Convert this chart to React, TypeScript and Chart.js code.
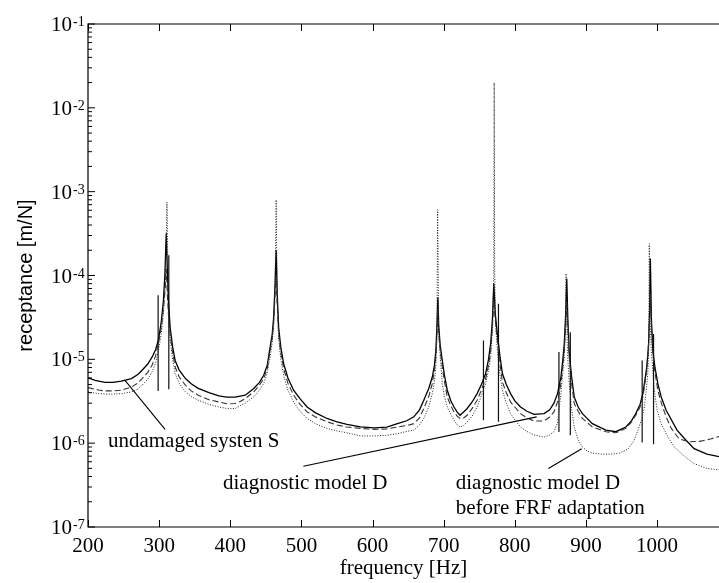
import React, { useEffect, useRef } from "react";
import { Chart, registerables } from "chart.js";

Chart.register(...registerables);

const SERIF = '"Liberation Serif", "Times New Roman", serif';
const SANS = '"Liberation Sans", Arial, sans-serif';

// [frequency Hz, receptance m/N]
const SYSTEM_S: [number, number][] = [
  [200, 6.0e-6], [210, 5.6e-6], [224, 5.3e-6], [235, 5.3e-6], [247, 5.5e-6], [261, 5.9e-6], [270, 6.6e-6], [276, 7.4e-6], [284, 8.8e-6], [290, 1.06e-5],
  [295, 1.3e-5], [299, 1.7e-5], [303, 2.8e-5], [306, 5.0e-5], [308, 1.0e-4], [310, 3.2e-4], [311.5, 1.2e-4], [313, 5.0e-5], [315.5, 2.4e-5], [319, 1.4e-5],
  [322.5, 9.7e-6], [328, 7.5e-6], [337, 5.9e-6], [345, 5.1e-6], [355, 4.5e-6], [370, 4.0e-6], [384, 3.66e-6], [395, 3.55e-6], [407, 3.55e-6], [421, 3.73e-6],
  [433, 4.5e-6], [441, 5.3e-6], [447, 6.45e-6], [452, 8.5e-6], [456, 1.4e-5], [459, 2.0e-5], [461, 3.2e-5], [463, 8e-5], [464.5, 2.0e-4], [466, 6e-5],
  [468, 2.4e-5], [471, 1.4e-5], [475, 8.9e-6], [481, 6e-6], [489, 4.28e-6], [498, 3.4e-6], [508, 2.7e-6], [520, 2.3e-6], [536, 1.97e-6], [550, 1.8e-6],
  [564, 1.68e-6], [583, 1.56e-6], [602, 1.52e-6], [620, 1.55e-6], [635, 1.71e-6], [648, 1.85e-6], [658, 2.06e-6], [666, 2.5e-6], [672, 3.25e-6], [679, 4.5e-6],
  [684, 6.15e-6], [687, 8.5e-6], [689, 1.28e-5], [690.5, 2.5e-5], [691.8, 5.5e-5], [693, 2.5e-5], [695, 1.5e-5], [698, 9.7e-6], [701, 6.5e-6], [705, 4.28e-6],
  [710, 3.2e-6], [714.5, 2.7e-6], [719, 2.35e-6], [723, 2.15e-6], [728, 2.35e-6], [733, 2.59e-6], [740, 3.1e-6], [747, 3.9e-6], [753, 5.0e-6], [759, 6.76e-6],
  [763, 1.0e-5], [766, 1.54e-5], [768.5, 3.0e-5], [770.5, 8.0e-5], [772.5, 3.5e-5], [775.5, 2.0e-5], [779, 1.1e-5], [782.5, 6.76e-6], [788, 5.0e-6], [794, 3.9e-6],
  [800, 3.2e-6], [808, 2.7e-6], [817, 2.4e-6], [827, 2.2e-6], [841, 2.25e-6], [849, 2.5e-6], [855, 3.0e-6], [860, 3.9e-6], [864.8, 6.15e-6], [867.5, 1.0e-5],
  [869.5, 1.54e-5], [871.5, 3.5e-5], [873, 9.2e-5], [874.5, 3.0e-5], [876.5, 1.17e-5], [880, 6.0e-6], [883.5, 3.56e-6], [889, 2.7e-6], [895, 2.25e-6], [909, 1.71e-6],
  [928, 1.43e-6], [942, 1.37e-6], [956, 1.56e-6], [963, 1.8e-6], [970, 2.25e-6], [976, 2.9e-6], [980, 3.9e-6], [985.5, 8.1e-6], [988, 1.5e-5], [989.5, 4e-5],
  [990.5, 1.6e-4], [992, 3e-5], [994, 1.28e-5], [997, 8e-6], [1001, 5.14e-6], [1006, 3.5e-6], [1012.7, 2.47e-6], [1028, 1.43e-6], [1040, 1.1e-6], [1052, 8.6e-7],
  [1070, 7.4e-7], [1087, 6.9e-7],
];

const MODEL_D: [number, number][] = [
  [200, 4.6e-6], [215, 4.3e-6], [224, 4.2e-6], [235, 4.2e-6], [247, 4.28e-6], [261, 4.68e-6], [270, 5.2e-6], [276, 5.9e-6], [284, 7.0e-6], [290, 8.5e-6],
  [295, 1.1e-5], [299, 1.54e-5], [303, 2.4e-5], [306, 4.0e-5], [308.5, 7e-5], [310, 1.2e-4], [311.5, 6e-5], [313, 3.5e-5], [315.5, 2.0e-5], [319, 1.2e-5],
  [322.5, 8.1e-6], [328, 6.2e-6], [337, 4.9e-6], [345, 4.2e-6], [355, 3.73e-6], [370, 3.3e-6], [384, 3.1e-6], [395, 2.95e-6], [407, 2.97e-6], [414, 3.15e-6],
  [421, 3.4e-6], [433, 4.1e-6], [441, 4.9e-6], [447, 5.9e-6], [452, 7.8e-6], [456, 1.28e-5], [459, 1.8e-5], [461, 2.8e-5], [463, 6e-5], [464.5, 1.0e-4],
  [466, 4.5e-5], [468, 2.0e-5], [471, 1.2e-5], [475, 7.75e-6], [481, 5.2e-6], [489, 3.73e-6], [498, 2.9e-6], [508, 2.36e-6], [520, 2.05e-6], [536, 1.8e-6],
  [550, 1.65e-6], [564, 1.56e-6], [583, 1.5e-6], [602, 1.46e-6], [620, 1.48e-6], [635, 1.56e-6], [648, 1.62e-6], [658, 1.71e-6], [666, 2.0e-6], [672, 2.59e-6],
  [679, 3.6e-6], [684, 5.14e-6], [687, 7.5e-6], [689, 1.06e-5], [690.5, 2e-5], [691.8, 4e-5], [693, 2e-5], [695, 1.3e-5], [698, 8.1e-6], [701, 5.5e-6],
  [705, 3.56e-6], [710, 2.8e-6], [714.5, 2.36e-6], [719, 2.1e-6], [723, 1.97e-6], [728, 2.0e-6], [733, 2.15e-6], [740, 2.6e-6], [747, 3.25e-6], [753, 4.3e-6],
  [759, 5.9e-6], [763, 8.5e-6], [766, 1.28e-5], [768.5, 2.5e-5], [770.5, 5e-5], [772.5, 3e-5], [775.5, 1.68e-5], [779, 9e-6], [782.5, 5.37e-6], [788, 4.0e-6],
  [794, 3.1e-6], [800, 2.7e-6], [808, 2.25e-6], [817, 2.0e-6], [827, 1.84e-6], [841, 1.84e-6], [849, 2.05e-6], [855, 2.36e-6], [860, 3.1e-6], [864.8, 5.14e-6],
  [867.5, 8.5e-6], [869.5, 1.28e-5], [871.5, 2.5e-5], [873, 5e-5], [874.5, 2.5e-5], [876.5, 1.06e-5], [880, 5.0e-6], [883.5, 2.97e-6], [889, 2.4e-6], [895, 1.97e-6],
  [909, 1.56e-6], [928, 1.37e-6], [942, 1.33e-6], [956, 1.5e-6], [963, 1.75e-6], [970, 2.15e-6], [976, 2.7e-6], [980, 3.56e-6], [985.5, 7.4e-6], [988, 1.54e-5],
  [989.5, 3e-5], [990.5, 6e-5], [992, 2.5e-5], [994, 1.17e-5], [997, 7e-6], [1001, 4.28e-6], [1006, 3e-6], [1012.7, 2.06e-6], [1020, 1.5e-6], [1031, 1.12e-6],
  [1045, 1.04e-6], [1060, 1.05e-6], [1075, 1.12e-6], [1087, 1.2e-6],
];

const MODEL_D_BEFORE: [number, number][] = [
  [200, 4.08e-6], [215, 3.9e-6], [224, 3.85e-6], [235, 3.85e-6], [247, 3.9e-6], [261, 4.08e-6], [270, 4.4e-6], [276, 4.9e-6], [284, 5.8e-6], [290, 7.06e-6],
  [295, 9e-6], [299, 1.28e-5], [303, 2.0e-5], [306, 3.5e-5], [308.5, 8e-5], [310, 2.5e-4], [311, 7.5e-4], [312, 2.0e-4], [313.5, 6e-5], [315.5, 1.76e-5],
  [319, 1.0e-5], [322.5, 6.76e-6], [328, 5.2e-6], [337, 4.08e-6], [345, 3.6e-6], [355, 3.25e-6], [370, 2.9e-6], [384, 2.7e-6], [395, 2.6e-6], [407, 2.59e-6],
  [414, 2.8e-6], [421, 3.0e-6], [433, 3.56e-6], [441, 4.3e-6], [447, 5.14e-6], [452, 7e-6], [456, 1.06e-5], [459, 1.6e-5], [461, 2.6e-5], [463, 8e-5],
  [464.5, 8e-4], [466, 5e-5], [468, 1.8e-5], [471, 1.0e-5], [475, 6.45e-6], [481, 4.3e-6], [489, 3.1e-6], [498, 2.4e-6], [508, 1.97e-6], [520, 1.7e-6],
  [536, 1.5e-6], [550, 1.4e-6], [564, 1.33e-6], [583, 1.22e-6], [602, 1.22e-6], [620, 1.24e-6], [635, 1.3e-6], [648, 1.38e-6], [658, 1.43e-6], [666, 1.65e-6],
  [672, 1.97e-6], [679, 2.7e-6], [684, 3.9e-6], [687, 5.5e-6], [689, 8.1e-6], [690.5, 2e-5], [691.5, 6.1e-4], [693, 2.5e-5], [695, 1.1e-5], [698, 5.14e-6],
  [701, 3.6e-6], [705, 2.7e-6], [710, 2.2e-6], [714.5, 1.88e-6], [719, 1.65e-6], [723, 1.56e-6], [728, 1.62e-6], [733, 1.8e-6], [740, 2.1e-6], [747, 2.7e-6],
  [753, 3.7e-6], [759, 5.14e-6], [763, 7.5e-6], [766, 1.06e-5], [768.5, 2.2e-5], [770.3, 1e-4], [771, 2.0e-2], [771.7, 1e-4], [773, 2.5e-5], [775.5, 1.28e-5],
  [779, 6.5e-6], [782.5, 4.28e-6], [788, 3.0e-6], [794, 2.25e-6], [800, 1.9e-6], [808, 1.56e-6], [817, 1.38e-6], [827, 1.25e-6], [841, 1.18e-6], [849, 1.25e-6],
  [855, 1.37e-6], [860, 1.75e-6], [864.8, 3.9e-6], [867.5, 7e-6], [869.5, 1.06e-5], [871, 2.5e-5], [872, 1.06e-4], [873, 2.5e-5], [874.5, 1.0e-5], [876.5, 5.14e-6],
  [880, 2.5e-6], [883.5, 1.56e-6], [889, 1.1e-6], [895, 9e-7], [902, 8e-7], [910, 7.6e-7], [921, 7.4e-7], [935, 7.4e-7], [947, 7.6e-7], [959, 8.5e-7],
  [967, 1.05e-6], [973, 1.43e-6], [979, 2.0e-6], [982, 2.7e-6], [985, 4.5e-6], [987, 6.8e-6], [988.3, 1.5e-5], [989, 2.4e-4], [990, 3e-5], [992, 1.2e-5],
  [996, 4.28e-6], [1000, 2.5e-6], [1005.6, 1.71e-6], [1015, 1.2e-6], [1024, 9.0e-7], [1040, 6.8e-7], [1052, 5.7e-7], [1070, 5.0e-7], [1087, 4.8e-7],
];

// vertical marker lines: frequency, lower value, upper value
const SPIKE_FREQ = [298.6, 313.6, 755.9, 777, 862, 878, 979, 995];
const SPIKE_LOW = [4.2e-6, 4.4e-6, 1.88e-6, 1.8e-6, 1.36e-6, 1.24e-6, 1.02e-6, 9.7e-7];
const SPIKE_HIGH = [5.8e-5, 1.74e-4, 1.68e-5, 4.6e-5, 1.22e-5, 2.1e-5, 9.7e-6, 2.0e-5];

const X_TICKS = [200, 300, 400, 500, 600, 700, 800, 900, 1000];
const Y_EXPONENTS = [-7, -6, -5, -4, -3, -2, -1];

const NOTES = [
  { text: "undamaged systen S", f: 228, v: 9.0e-7 },
  { text: "diagnostic model D", f: 389.8, v: 2.84e-7 },
  { text: "diagnostic model D", f: 717, v: 2.84e-7 },
  { text: "before FRF adaptation", f: 717, v: 1.43e-7 },
];
const LEADERS = [
  { f1: 252, v1: 5.6e-6, f2: 308.3, v2: 1.46e-6 },
  { f1: 502.8, v1: 5.3e-7, f2: 830.7, v2: 2.06e-6 },
  { f1: 847.2, v1: 5.0e-7, f2: 894, v2: 8.6e-7 },
];

const toPts = (arr: [number, number][]) => arr.map(([x, y]) => ({ x, y }));

const spikePts = () => {
  const out: { x: number; y: number | null }[] = [];
  SPIKE_FREQ.forEach((f, i) => {
    out.push({ x: f, y: SPIKE_LOW[i] });
    out.push({ x: f, y: SPIKE_HIGH[i] });
    out.push({ x: f, y: null });
  });
  return out;
};

const decorPlugin = {
  id: "decor",
  afterDatasetsDraw(chart: any) {
    const { ctx, chartArea: a, scales } = chart;
    const xs = scales.x;
    const ys = scales.y;
    ctx.save();
    ctx.strokeStyle = "#000";
    ctx.fillStyle = "#000";
    ctx.lineWidth = 1.2;
    // frame
    ctx.beginPath();
    ctx.moveTo(a.right + 2, a.top);
    ctx.lineTo(a.left, a.top);
    ctx.lineTo(a.left, a.bottom);
    ctx.lineTo(a.right + 2, a.bottom);
    ctx.stroke();
    // x ticks (inward, top and bottom)
    ctx.lineWidth = 1;
    ctx.beginPath();
    X_TICKS.forEach((t) => {
      const px = Math.round(xs.getPixelForValue(t)) + 0.5;
      ctx.moveTo(px, a.top);
      ctx.lineTo(px, a.top + 7);
      ctx.moveTo(px, a.bottom);
      ctx.lineTo(px, a.bottom - 7);
    });
    // y ticks major + minor
    Y_EXPONENTS.forEach((e) => {
      const py = ys.getPixelForValue(Math.pow(10, e));
      ctx.moveTo(a.left, py);
      ctx.lineTo(a.left + 7, py);
      if (e < -1) {
        for (let m = 2; m <= 9; m++) {
          const pm = ys.getPixelForValue(m * Math.pow(10, e));
          ctx.moveTo(a.left, pm);
          ctx.lineTo(a.left + 4, pm);
        }
      }
    });
    ctx.stroke();
    // y tick labels 10^e
    Y_EXPONENTS.forEach((e) => {
      const py = ys.getPixelForValue(Math.pow(10, e));
      ctx.font = `21px ${SERIF}`;
      ctx.textAlign = "right";
      ctx.textBaseline = "alphabetic";
      ctx.fillText("10", a.left - 16, py + 7);
      ctx.font = `14px ${SERIF}`;
      ctx.textAlign = "left";
      ctx.fillText(String(e), a.left - 15, py + 2);
    });
    // leader lines
    ctx.lineWidth = 1.1;
    ctx.beginPath();
    LEADERS.forEach((l) => {
      ctx.moveTo(xs.getPixelForValue(l.f1), ys.getPixelForValue(l.v1));
      ctx.lineTo(xs.getPixelForValue(l.f2), ys.getPixelForValue(l.v2));
    });
    ctx.stroke();
    // annotation texts
    ctx.font = `21px ${SERIF}`;
    ctx.textAlign = "left";
    ctx.textBaseline = "alphabetic";
    NOTES.forEach((n) => {
      ctx.fillText(n.text, xs.getPixelForValue(n.f), ys.getPixelForValue(n.v));
    });
    ctx.restore();
  },
};

export default function App() {
  const ref = useRef<HTMLCanvasElement>(null);
  useEffect(() => {
    const canvas = ref.current;
    if (!canvas) return;
    const chart = new Chart(canvas, {
      type: "line",
      data: {
        datasets: [
          {
            label: "diagnostic model D before FRF adaptation",
            data: toPts(MODEL_D_BEFORE),
            borderColor: "#222",
            borderWidth: 1,
            borderDash: [1, 1.6],
            pointRadius: 0,
            tension: 0,
          },
          {
            label: "diagnostic model D",
            data: toPts(MODEL_D),
            borderColor: "#333",
            borderWidth: 1.1,
            borderDash: [6, 3],
            pointRadius: 0,
            tension: 0,
          },
          {
            label: "undamaged systen S",
            data: toPts(SYSTEM_S),
            borderColor: "#000",
            borderWidth: 1.3,
            pointRadius: 0,
            tension: 0,
          },
          {
            label: "markers",
            data: spikePts() as any,
            borderColor: "#111",
            borderWidth: 1.2,
            pointRadius: 0,
            spanGaps: false,
            tension: 0,
          },
        ],
      },
      options: {
        animation: false,
        responsive: false,
        devicePixelRatio: 1,
        layout: { padding: { top: 24, right: 0, left: 0, bottom: 0 } },
        plugins: { legend: { display: false }, tooltip: { enabled: false } },
        scales: {
          x: {
            type: "linear",
            min: 200,
            max: 1087,
            position: "bottom",
            grid: { display: false, drawTicks: false },
            border: { display: false },
            ticks: {
              stepSize: 100,
              includeBounds: false,
              autoSkip: false,
              maxRotation: 0,
              color: "#000",
              padding: 7,
              font: { family: SERIF, size: 21 },
              callback: (v: any) => String(v),
            },
            title: {
              display: true,
              text: "frequency [Hz]",
              color: "#000",
              font: { family: SERIF, size: 21 },
              padding: { top: 0, bottom: 2 },
            },
            afterFit: (s: any) => {
              s.height = 56;
            },
          },
          y: {
            type: "logarithmic",
            min: 1e-7,
            max: 1e-1,
            position: "left",
            grid: { display: false, drawTicks: false },
            border: { display: false },
            ticks: { display: false },
            title: {
              display: true,
              text: "receptance [m/N]",
              color: "#000",
              font: { family: SANS, size: 20 },
              padding: { top: 14, bottom: 0 },
            },
            afterFit: (s: any) => {
              s.width = 88;
            },
          },
        },
      } as any,
      plugins: [decorPlugin],
    });
    return () => chart.destroy();
  }, []);
  return (
    <div style={{ position: "fixed", left: 0, top: 0, width: 719, height: 583, background: "#fff" }}>
      <canvas ref={ref} width={719} height={583} style={{ display: "block", width: 719, height: 583 }} />
    </div>
  );
}
